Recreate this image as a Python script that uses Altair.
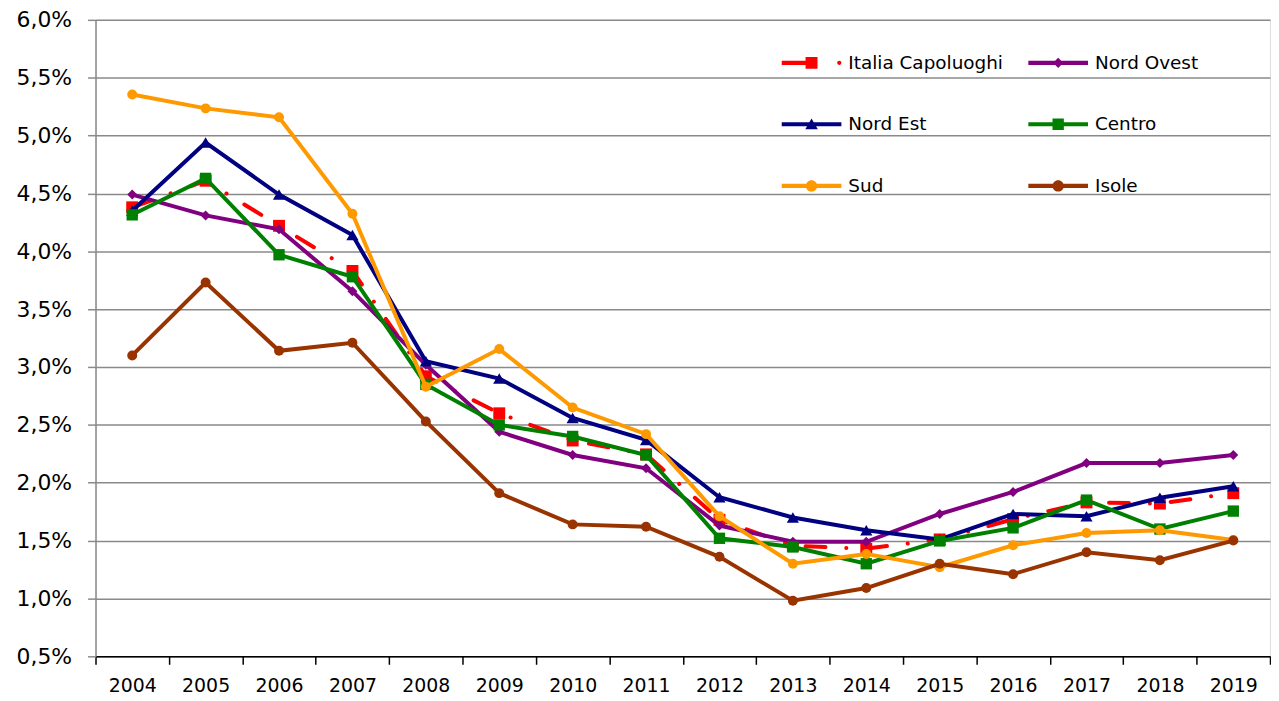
import altair as alt
import pandas as pd

anni = [str(y) for y in range(2004, 2020)]

serie = ["Italia Capoluoghi", "Nord Ovest", "Nord Est", "Centro", "Sud", "Isole"]
colori = ["#FF0000", "#800080", "#000080", "#008000", "#FF9900", "#993300"]

italia = [4.38, 4.61, 4.22, 3.83, 2.92, 2.60, 2.365, 2.245, 1.68, 1.455, 1.43, 1.51, 1.685, 1.83, 1.82, 1.91]
nord_ovest = [4.49, 4.31, 4.19, 3.655, 3.02, 2.44, 2.24, 2.125, 1.63, 1.49, 1.49, 1.73, 1.92, 2.17, 2.17, 2.24]
nord_est = [4.35, 4.94, 4.49, 4.14, 3.05, 2.90, 2.56, 2.37, 1.875, 1.70, 1.59, 1.51, 1.73, 1.71, 1.87, 1.97]
centro = [4.315, 4.63, 3.97, 3.78, 2.85, 2.50, 2.40, 2.24, 1.52, 1.445, 1.30, 1.497, 1.61, 1.85, 1.60, 1.755]
sud = [5.355, 5.235, 5.158, 4.324, 2.83, 3.155, 2.65, 2.42, 1.71, 1.30, 1.385, 1.27, 1.46, 1.565, 1.59, 1.505]
isole = [3.10, 3.73, 3.14, 3.21, 2.53, 1.91, 1.64, 1.62, 1.36, 0.98, 1.09, 1.30, 1.21, 1.40, 1.33, 1.50]

valori = [italia, nord_ovest, nord_est, centro, sud, isole]

rows = []
for nome, vals in zip(serie, valori):
    for a, v in zip(anni, vals):
        rows.append({"anno": a, "serie": nome, "val": v})
df = pd.DataFrame(rows)

marker_shape = ["square", "diamond", "triangle-up", "square", "circle", "circle"]
marker_size = [144, 100, 150, 130, 100, 100]

# legend symbols (line + marker), unit = 30px
line_full = "M-1,-0.07H1V0.07H-1Z"
legend_paths = [
    "M-1,-0.07H0V0.07H-1Z M-0.2,-0.2H0.2V0.2H-0.2Z M0.86,0A0.07,0.07 0 1,1 1,0A0.07,0.07 0 1,1 0.86,0Z",
    line_full + " M0,-0.17L0.17,0L0,0.17L-0.17,0Z",
    line_full + " M0,-0.19L0.21,0.17H-0.21Z",
    line_full + " M-0.19,-0.19H0.19V0.19H-0.19Z",
    line_full + " M-0.19,0A0.19,0.19 0 1,1 0.19,0A0.19,0.19 0 1,1 -0.19,0Z",
    line_full + " M-0.19,0A0.19,0.19 0 1,1 0.19,0A0.19,0.19 0 1,1 -0.19,0Z",
]

# legend fills column by column: order entries so rows read as in the original
leg_order = [0, 2, 4, 1, 3, 5]
leg_domain = [serie[i] for i in leg_order]
leg_colors = [colori[i] for i in leg_order]
leg_paths = [legend_paths[i] for i in leg_order]

FONT = "DejaVu Sans"
GRID = "#8a8a8a"

X = alt.X(
    "anno:O",
    scale=alt.Scale(type="band", paddingInner=0, paddingOuter=0),
    axis=alt.Axis(
        title=None, labelAngle=0, tickBand="extent", grid=False,
        domainColor="black", tickColor="black", tickSize=8, tickWidth=1.5,
        domainWidth=1.5, labelFontSize=19, labelFont=FONT, labelColor="black",
        labelPadding=12,
    ),
)
Y = alt.Y(
    "val:Q",
    scale=alt.Scale(domain=[0.5, 6.0], nice=False, zero=False),
    axis=alt.Axis(
        title=None, values=[0.5 + 0.5 * i for i in range(12)],
        labelExpr="replace(format(datum.value, '.1f'), '.', ',') + '%'",
        grid=True, gridColor=GRID, gridWidth=1.5,
        domainColor=GRID, domainWidth=1.5, tickColor=GRID, tickWidth=1.5, tickSize=8,
        labelFontSize=22, labelFont=FONT, labelColor="black", labelPadding=16,
    ),
)

layers = []
for i, nome in enumerate(serie):
    base = alt.Chart(df).transform_filter(alt.datum.serie == nome)
    if i == 0:
        line = base.mark_line(color=colori[i], strokeWidth=4, strokeDash=[20, 21, 0.1, 21], strokeCap="round")
    else:
        line = base.mark_line(color=colori[i], strokeWidth=4)
    pts = base.mark_point(filled=True, shape=marker_shape[i], size=marker_size[i],
                          color=colori[i], opacity=1, strokeWidth=0)
    layers.append(line.encode(x=X, y=Y))
    layers.append(pts.encode(x=X, y=Y))

leg = alt.Legend(
    title=None, orient="none", legendX=690, legendY=13, columns=2,
    symbolSize=3600, symbolStrokeWidth=0, labelFontSize=18.5, labelFont=FONT,
    labelColor="black", labelOffset=7, columnPadding=25, rowPadding=22,
    labelLimit=300, padding=0,
)

legend_layer = alt.Chart(df).transform_filter("false").mark_point(
    filled=True, opacity=1, size=3600, strokeWidth=0
).encode(
    x=X, y=Y,
    color=alt.Color("serie:N", scale=alt.Scale(domain=leg_domain, range=leg_colors), legend=leg),
    shape=alt.Shape("serie:N", scale=alt.Scale(domain=leg_domain, range=leg_paths), legend=leg),
)
layers.append(legend_layer)

chart = alt.layer(*layers).properties(
    width=1181, height=640,
    autosize=alt.AutoSizeParams(type="none"),
    padding={"left": 88, "top": 10, "right": 1, "bottom": 40},
).configure_view(stroke=GRID, strokeWidth=1.5).configure(background="white")

chart.save("out.html", embed_options={"renderer": "svg", "actions": False})
